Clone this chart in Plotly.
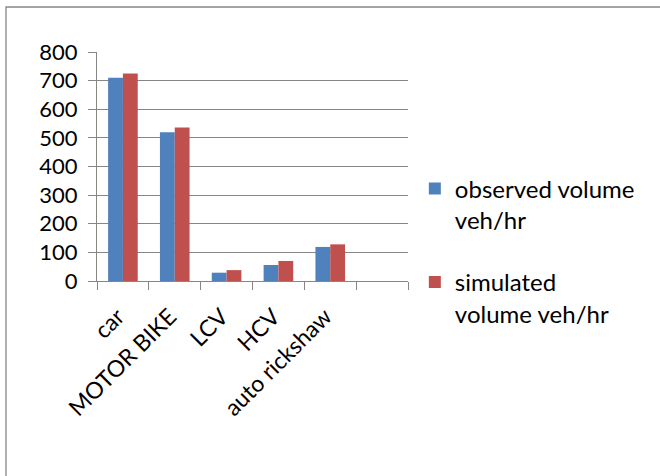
import plotly.graph_objects as go

# data
categories = ["car", "MOTOR BIKE", "LCV", "HCV", "auto rickshaw", " "]
observed = [710, 520, 29, 56, 119, None]
simulated = [725, 536, 38, 70, 128, None]
y_ticks = [0, 100, 200, 300, 400, 500, 600, 700, 800]

FONT = "Lato"
GRID = "#868686"

fig = go.Figure()
fig.add_trace(go.Bar(
    x=categories, y=observed, name="observed volume<br>veh/hr",
    marker=dict(color="#4F81BD", line=dict(width=0)), legendgroup="a",
))
fig.add_trace(go.Bar(
    x=categories, y=simulated, name="simulated<br>volume veh/hr",
    marker=dict(color="#C0504D", line=dict(width=0)), legendgroup="b",
))

fig.update_layout(
    width=660, height=476,
    margin=dict(l=97, r=252, t=52, b=195),
    plot_bgcolor="#FFFFFF", paper_bgcolor="#FFFFFF",
    barmode="group", bargap=0.4286, bargroupgap=0,
    font=dict(family=FONT, size=21, color="#000000"),
    legend=dict(
        x=1.022, y=0.50, xanchor="left", yanchor="top", valign="top",
        font=dict(family=FONT, size=24), tracegroupgap=28,
        itemwidth=30, bgcolor="rgba(0,0,0,0)",
    ),
    shapes=[dict(
        type="rect", xref="paper", yref="paper",
        x0=(6 - 97) / 311, x1=2, y0=-2, y1=(281 - 7) / 229,
        line=dict(color=GRID, width=1.3), fillcolor="rgba(0,0,0,0)", layer="below",
    )],
)

fig.update_xaxes(
    type="category", range=[-0.5, 5.5], tickangle=-45,
    showline=True, linecolor=GRID, linewidth=1,
    ticks="outside", tickson="boundaries", ticklen=8, tickcolor=GRID,
    ticklabelstandoff=12, ticklabelshift=-5,
    showgrid=False, tickfont=dict(family=FONT, size=23),
)
fig.update_yaxes(
    range=[0, 800], tickvals=y_ticks,
    showline=True, linecolor=GRID, linewidth=1,
    ticks="outside", ticklen=8, tickcolor=GRID, ticklabelstandoff=6,
    showgrid=True, gridcolor=GRID, gridwidth=1, zeroline=False,
    tickfont=dict(family=FONT, size=22),
)

fig.write_html("out.html", config={"displayModeBar": False},
               post_script="document.body.style.margin='0';")
